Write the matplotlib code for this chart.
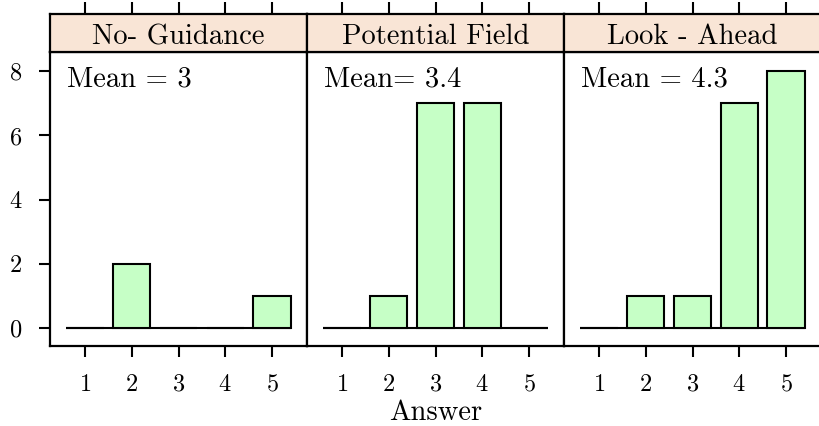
import matplotlib
matplotlib.use("Agg")
import matplotlib.pyplot as plt
import numpy as np

plt.rcParams["font.family"] = ["cmr10", "DejaVu Serif"]
plt.rcParams["mathtext.fontset"] = "cm"
plt.rcParams["axes.formatter.use_mathtext"] = True

answers = [1, 2, 3, 4, 5]
panels = ["No- Guidance", "Potential Field", "Look - Ahead"]
counts = {
    "No- Guidance": [0, 2, 0, 0, 1],
    "Potential Field": [0, 1, 7, 7, 0],
    "Look - Ahead": [0, 1, 1, 7, 8],
}
mean_labels = ["Mean = 3", "Mean= 3.4", "Mean = 4.3"]
yticks = [0, 2, 4, 6, 8]

W, H = 819, 426
fig = plt.figure(figsize=(W / 100, H / 100), dpi=100)

left_px = 50
panel_w = 257
panel_bottom = 346
panel_top = 52
strip_top = 14

bar_color = "#C6FFC6"
strip_color = "#F9E5D6"
text_size = 20.6
tick_size = 17.5

for i, name in enumerate(panels):
    x0 = (left_px + i * panel_w) / W
    ax = fig.add_axes([x0, 1 - panel_bottom / H, panel_w / W,
                       (panel_bottom - panel_top) / H])
    ax.set_xlim(0.25, 5.75)
    ax.set_ylim(-0.56, 8.6)
    ax.hlines(0, 0.6, 5.4, color="black", lw=1.5, zorder=2)
    ax.bar(answers, counts[name], width=0.8, color=bar_color,
           edgecolor="black", linewidth=1.5, zorder=3)
    for s in ax.spines.values():
        s.set_linewidth(1.6)
    ax.set_xticks(answers)
    ax.tick_params(axis="x", direction="out", length=8, width=1.5,
                   pad=12, labelsize=tick_size)
    if i == 0:
        ax.set_yticks(yticks)
        ax.tick_params(axis="y", direction="out", length=8, width=1.5,
                       pad=12, labelsize=tick_size)
    else:
        ax.set_yticks([])
    ax.text(0.066, 0.884, mean_labels[i], transform=ax.transAxes,
            fontsize=text_size, ha="left", va="baseline")

    sax = fig.add_axes([x0, 1 - panel_top / H, panel_w / W,
                        (panel_top - strip_top) / H])
    sax.set_facecolor(strip_color)
    sax.set_xlim(0.25, 5.75)
    sax.set_ylim(0, 1)
    for s in sax.spines.values():
        s.set_linewidth(1.6)
    sax.set_yticks([])
    sax.set_xticks(answers)
    sax.tick_params(axis="x", direction="out", length=9, width=1.5,
                    top=True, bottom=False, labeltop=False,
                    labelbottom=False)
    sax.text(0.5, 0.21, name, transform=sax.transAxes, fontsize=text_size,
             ha="center", va="baseline")

fig.text((left_px + 1.5 * panel_w) / W, 1 - 420 / H, "Answer",
         fontsize=text_size, ha="center", va="baseline")

fig.savefig("out.png", dpi=100)
